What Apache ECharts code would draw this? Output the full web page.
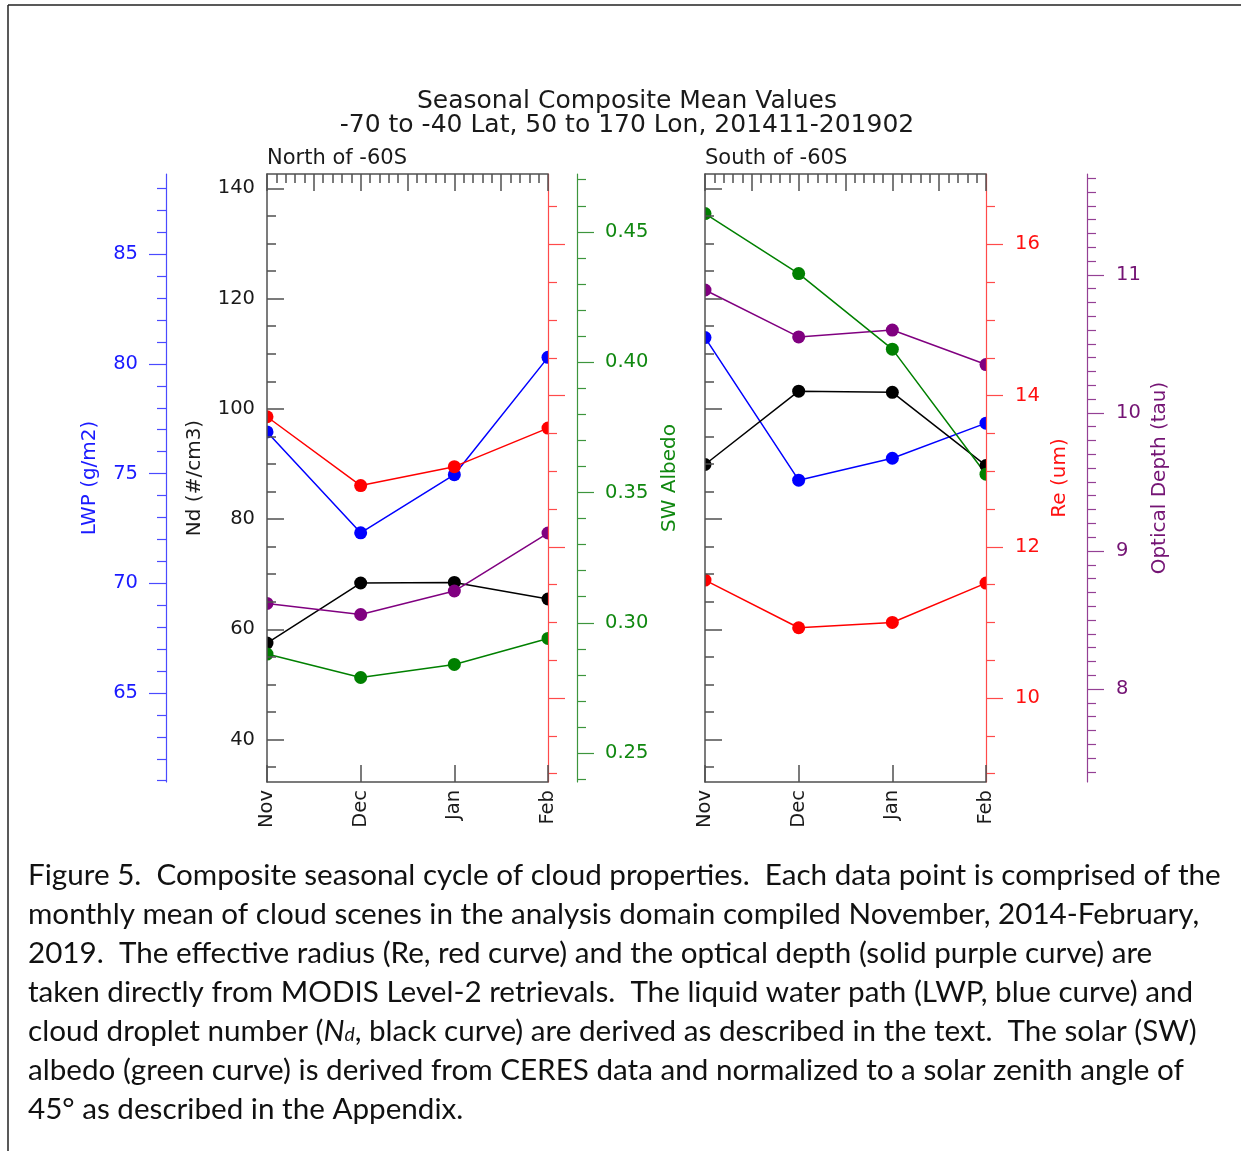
<!DOCTYPE html>
<html><head><meta charset="utf-8">
<script src="https://cdn.jsdelivr.net/npm/echarts@6/dist/echarts.min.js"></script>
<style>html,body{margin:0;padding:0;background:#fff}#c{width:1241px;height:1151px}</style>
</head><body><div id="c"></div>
<script>
// ---------------- data ----------------
const months = ['Nov', 'Dec', 'Jan', 'Feb'];
// North of -60S
const northLWP = [76.9, 72.3, 74.95, 80.3];
const northNd  = [57.5, 68.4, 68.5, 65.5];
const northRe  = [13.72, 12.81, 13.06, 13.57];
const northTau = [8.62, 8.54, 8.71, 9.13];
const northAlb = [0.288, 0.279, 0.284, 0.294];
// South of -60S
const southLWP = [81.2, 74.7, 75.7, 77.3];
const southNd  = [89.9, 103.2, 103.0, 89.7];
const southRe  = [11.56, 10.93, 11.0, 11.52];
const southTau = [10.89, 10.55, 10.60, 10.35];
const southAlb = [0.457, 0.434, 0.405, 0.357];

// axis tick labels (major ticks)
const lwpTicks = [65, 70, 75, 80, 85];
const ndTicks  = [40, 60, 80, 100, 120, 140];
const albTicks = [0.25, 0.30, 0.35, 0.40, 0.45];
const reTicks  = [10, 12, 14, 16];
const tauTicks = [8, 9, 10, 11];

const titleLines = ['Seasonal Composite Mean Values', '-70 to -40 Lat, 50 to 170 Lon, 201411-201902'];
const panelTitles = ['North of -60S', 'South of -60S'];
const captionLines = [
  'Figure 5.  Composite seasonal cycle of cloud properties.  Each data point is comprised of the',
  'monthly mean of cloud scenes in the analysis domain compiled November, 2014-February,',
  '2019.  The effective radius (Re, red curve) and the optical depth (solid purple curve) are',
  'taken directly from MODIS Level-2 retrievals.  The liquid water path (LWP, blue curve) and',
  'cloud droplet number ({i|N}{s|d}, black curve) are derived as described in the text.  The solar (SW)',
  'albedo (green curve) is derived from CERES data and normalized to a solar zenith angle of',
  '45\u00b0 as described in the Appendix.'
];

// ---------------- helpers ----------------
function minorTicks(a, b, s, majors) {
  const r = [];
  for (let k = 0; ; k++) {
    const v = +(a + k * s).toFixed(4);
    if (v > b + 1e-9) break;
    if (!majors.some(m => Math.abs(m - v) < 1e-9)) r.push(v);
  }
  return r;
}
const RANGE = {
  lwp: [60.94, 88.66], nd: [32.3, 142.6], alb: [0.2389, 0.4722], re: [8.89, 16.93], tau: [7.327, 11.73]
};
const MINOR = {
  lwp: minorTicks(61, 88, 1, lwpTicks),
  nd: minorTicks(35, 140, 5, ndTicks),
  alb: minorTicks(0.24, 0.47, 0.01, albTicks),
  re: minorTicks(9, 16.5, 0.5, reTicks),
  tau: minorTicks(7.4, 11.7, 0.1, tauTicks)
};
const MAJOR = { lwp: lwpTicks, nd: ndTicks, alb: albTicks, re: reTicks, tau: tauTicks };
const COL = {
  lwp: { line: '#4a4aff', text: '#1a1aff', name: 'LWP (g/m2)', fmt: v => String(v) },
  nd:  { line: '#505050', text: '#1a1a1a', name: 'Nd (#/cm3)', fmt: v => String(v) },
  alb: { line: '#3d953d', text: '#108810', name: 'SW Albedo', fmt: v => v.toFixed(2) },
  re:  { line: '#ff4a4a', text: '#ff1010', name: 'Re (um)', fmt: v => String(v) },
  tau: { line: '#944094', text: '#741474', name: 'Optical Depth (tau)', fmt: v => String(v) }
};
const FONT = 'DejaVu Sans';

function yMajor(key, grid, o) {
  const c = COL[key];
  return {
    type: 'value', gridIndex: grid, min: RANGE[key][0], max: RANGE[key][1],
    position: o.pos, offset: o.offset || 0, z: 10,
    splitLine: { show: false },
    axisLine: { show: true, lineStyle: { color: c.line, width: key === 'nd' ? 1.5 : 1.2 } },
    axisTick: { show: true, inside: !!o.inside, length: 17, customValues: MAJOR[key],
      lineStyle: { color: c.line, width: key === 'nd' ? 1.5 : 1.2 } },
    axisLabel: o.labels ? { show: true, customValues: MAJOR[key], margin: o.margin, color: c.text,
      fontSize: 19.5, fontFamily: FONT, formatter: c.fmt } : { show: false },
    name: o.labels ? c.name : '',
    nameLocation: 'middle', nameRotate: 90, nameGap: o.nameGap, nameMoveOverlap: false,
    nameTextStyle: { color: c.text, fontSize: 20, fontFamily: FONT }
  };
}
function yMinor(key, grid, o) {
  const c = COL[key];
  return {
    type: 'value', gridIndex: grid, min: RANGE[key][0], max: RANGE[key][1],
    position: o.pos, offset: o.offset || 0, z: 10,
    splitLine: { show: false },
    axisLine: { show: false },
    axisTick: { show: true, inside: !!o.inside, length: 9, customValues: MINOR[key],
      lineStyle: { color: c.line, width: key === 'nd' ? 1.5 : 1.2 } },
    axisLabel: { show: false }
  };
}
function yHidden(key, grid) {
  return { type: 'value', gridIndex: grid, min: RANGE[key][0], max: RANGE[key][1], show: false };
}

const yAxes = [
  // grid 0 (North)
  yMajor('nd', 0, { pos: 'left', inside: true, labels: true, margin: 12, nameGap: 62 }), //0
  yMinor('nd', 0, { pos: 'left', inside: true }),                                       //1
  yMajor('lwp', 0, { pos: 'left', offset: 101, labels: true, margin: 28, nameGap: 66 }),//2
  yMinor('lwp', 0, { pos: 'left', offset: 101 }),                                       //3
  yMajor('alb', 0, { pos: 'right', offset: 29, labels: true, margin: 28, nameGap: 83 }),//4
  yMinor('alb', 0, { pos: 'right', offset: 29 }),                                       //5
  yMajor('re', 0, { pos: 'right' }),                                                    //6
  yMinor('re', 0, { pos: 'right' }),                                                    //7
  yHidden('tau', 0),                                                                    //8
  // grid 1 (South)
  yMajor('nd', 1, { pos: 'left', inside: true }),                                       //9
  yMinor('nd', 1, { pos: 'left', inside: true }),                                       //10
  yMajor('re', 1, { pos: 'right', labels: true, margin: 29, nameGap: 64 }),             //11
  yMinor('re', 1, { pos: 'right' }),                                                    //12
  yMajor('tau', 1, { pos: 'right', offset: 101, labels: true, margin: 29, nameGap: 63 }),//13
  yMinor('tau', 1, { pos: 'right', offset: 101 }),                                      //14
  yHidden('lwp', 1),                                                                    //15
  yHidden('alb', 1)                                                                     //16
];

function xBottom(grid) {
  return {
    type: 'category', gridIndex: grid, data: months, boundaryGap: false, position: 'bottom', z: 10,
    axisLine: { lineStyle: { color: '#505050', width: 1.5 } },
    axisTick: { inside: true, length: 17, lineStyle: { color: '#505050', width: 1.5 } },
    axisLabel: { rotate: 90, interval: 0, margin: 8, fontSize: 19.5, color: '#1a1a1a', fontFamily: FONT },
    splitLine: { show: false }
  };
}
function xTop(grid) {
  return {
    type: 'value', gridIndex: grid, position: 'top', min: 0, max: 6, interval: 1, z: 10,
    axisLine: { lineStyle: { color: '#505050', width: 1.5 } },
    axisTick: { inside: true, length: 17, lineStyle: { color: '#505050', width: 1.5 } },
    minorTick: { show: true, splitNumber: 5, length: 9, lineStyle: { color: '#505050', width: 1.5 } },
    axisLabel: { show: false }, splitLine: { show: false }, minorSplitLine: { show: false }
  };
}

function ser(name, data, xi, yi, color) {
  return {
    type: 'line', name, data, xAxisIndex: xi, yAxisIndex: yi,
    symbol: 'circle', symbolSize: 13, showSymbol: true, clip: false, z: 2,
    lineStyle: { color, width: 1.5 }, itemStyle: { color }, emphasis: { disabled: true }
  };
}
const BLUE = '#0000ff', BLACK = '#000000', RED = '#ff0000', PURPLE = '#800080', GREEN = '#008000';
const series = [
  ser('LWP N', northLWP, 0, 2, BLUE),
  ser('Nd N', northNd, 0, 0, BLACK),
  ser('Re N', northRe, 0, 6, RED),
  ser('Tau N', northTau, 0, 8, PURPLE),
  ser('Alb N', northAlb, 0, 4, GREEN),
  ser('LWP S', southLWP, 2, 15, BLUE),
  ser('Nd S', southNd, 2, 9, BLACK),
  ser('Re S', southRe, 2, 11, RED),
  ser('Tau S', southTau, 2, 13, PURPLE),
  ser('Alb S', southAlb, 2, 16, GREEN)
];

// caption font size fitted to the reference line width
const CAP_FONT = 'Lato';
const mctx = document.createElement('canvas').getContext('2d');
mctx.font = '100px ' + CAP_FONT;
const capSize = Math.max(24, Math.min(31, 100 * 1193 / mctx.measureText(captionLines[0]).width));

const G = [267, 705];
const graphics = [];
// masks outside the plot boxes (clip the edge markers)
[[0, 267], [548.5, 705], [986, 1241]].forEach(([a, b]) => {
  graphics.push({ type: 'rect', z: 3, silent: true, shape: { x: a, y: 166, width: b - a, height: 624 },
    style: { fill: '#fff' } });
});
// page frame
graphics.push({ type: 'line', z: 20, shape: { x1: 8, y1: 5, x2: 1241, y2: 5 }, style: { stroke: '#222', lineWidth: 1.5 } });
graphics.push({ type: 'line', z: 20, shape: { x1: 8, y1: 5, x2: 8, y2: 1151 }, style: { stroke: '#222', lineWidth: 1.5 } });
// titles
titleLines.forEach((t, i) => {
  graphics.push({ type: 'text', z: 20, x: 627, y: 101 + i * 24,
    style: { text: t, fill: '#1a1a1a', fontSize: 25, fontFamily: FONT, textAlign: 'center', textVerticalAlign: 'middle' } });
});
panelTitles.forEach((t, i) => {
  graphics.push({ type: 'text', z: 20, x: G[i], y: 159,
    style: { text: t, fill: '#1a1a1a', fontSize: 21, fontFamily: FONT, textAlign: 'left', textVerticalAlign: 'middle' } });
});
captionLines.forEach((t, i) => {
  graphics.push({ type: 'text', z: 20, x: 28, y: 875 + i * 39,
    style: { text: t, fill: '#111', fontSize: capSize, fontFamily: CAP_FONT, textAlign: 'left', textVerticalAlign: 'middle',
      rich: {
        i: { fontStyle: 'italic', fontSize: capSize, fontFamily: CAP_FONT, fill: '#111' },
        s: { fontStyle: 'italic', fontSize: capSize * 0.65, fontFamily: CAP_FONT, fill: '#111', padding: [8, 0, 0, 0] }
      } } });
});

const chart = echarts.init(document.getElementById('c'), null, { renderer: 'canvas' });
chart.setOption({
  animation: false,
  backgroundColor: '#fff',
  grid: [
    { left: G[0], top: 174, width: 281, height: 608 },
    { left: G[1], top: 174, width: 281, height: 608 }
  ],
  xAxis: [xBottom(0), xTop(0), xBottom(1), xTop(1)],
  yAxis: yAxes,
  series,
  graphic: { elements: graphics }
});
</script></body></html>
